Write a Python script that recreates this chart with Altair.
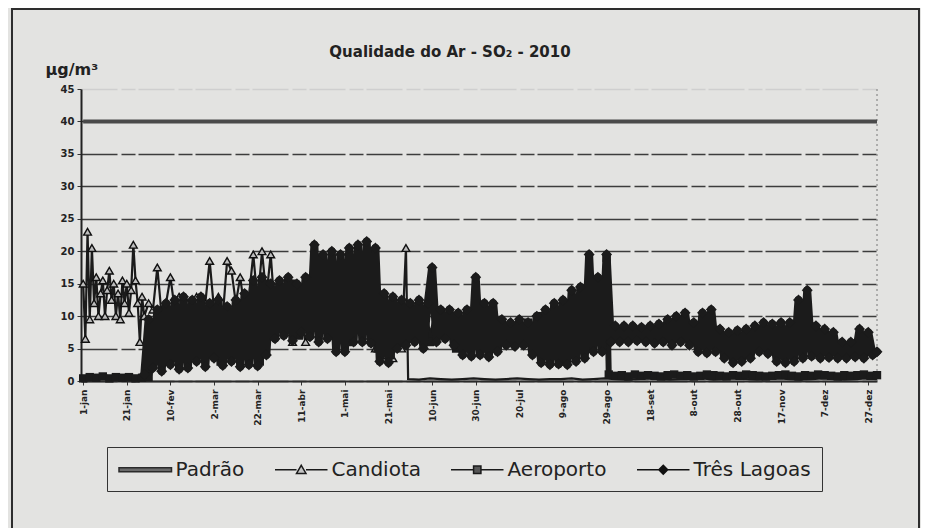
import altair as alt
import pandas as pd

# ---------------- data ----------------
tick_days = [0, 20, 40, 60, 80, 100, 120, 140, 160, 180, 200, 220, 240, 260, 280, 300, 320, 340, 360]
tick_labels = ["1-jan", "21-jan", "10-fev", "2-mar", "22-mar", "11-abr", "1-mai", "21-mai",
               "10-jun", "30-jun", "20-jul", "9-ago", "29-ago", "18-set", "8-out", "28-out",
               "17-nov", "7-dez", "27-dez"]
y_ticks = [0, 5, 10, 15, 20, 25, 30, 35, 40, 45]

series_names = ["Padrão", "Candiota", "Aeroporto", "Três Lagoas"]

# Padrão (limit)
padrao_days = [0, 364]
padrao_vals = [40, 40]

# Candiota: daily in January, every 2 days Feb-May, every 5 days afterwards
cand_jan = [15.0, 6.5, 23.0, 9.5, 20.5, 12.0, 16.0, 10.0, 13.5, 15.5,
            10.0, 14.0, 17.0, 12.5, 15.0, 10.0, 13.5, 9.5, 15.5, 12.0,
            15.0, 10.5, 14.0, 21.0, 15.5, 12.0, 6.0, 13.0]
cand_mid = [10.0, 12.0, 11.0, 17.5, 10.0, 12.0, 16.0, 11.0, 13.0, 10.5,
            12.0, 11.0, 13.0, 10.0, 12.0, 18.5, 11.0, 13.0, 10.0, 18.5,
            17.0, 12.0, 16.0, 11.0, 13.0, 19.5, 12.0, 20.0, 13.0, 19.5,
            10.0, 12.0, 8.0, 11.0, 6.0, 12.0, 9.0, 6.0, 13.0, 10.0,
            14.0, 8.0, 12.0, 9.0, 13.0, 8.0, 11.0, 7.0, 12.0, 8.0,
            10.0, 7.0, 9.0, 5.0, 8.0, 4.0, 6.0, 3.5, 7.0, 5.0, 20.5]
cand_end = [0.3, 0.2, 0.4, 0.3, 0.2, 0.3, 0.4, 0.3, 0.2, 0.3,
            0.4, 0.3, 0.2, 0.3, 0.3, 0.4, 0.2, 0.3, 0.4, 0.3,
            0.2, 0.3, 0.4, 0.3, 0.2, 0.3, 0.3, 0.4, 0.2, 0.3,
            0.4, 0.3, 0.2, 0.3, 0.4, 0.3, 0.2, 0.3, 0.4, 0.3,
            0.2, 0.3, 0.4, 0.3]

# Aeroporto: every 3 days
aero_start = [0.4, 0.6, 0.5, 0.7, 0.4, 0.6, 0.5, 0.6, 0.4, 0.5, 0.6]
aero_mid = [4.0, 8.0, 3.0, 10.0, 5.0, 11.0, 4.0, 12.0, 6.0, 10.0,
            3.0, 11.0, 5.0, 12.0, 4.0, 14.0, 3.0, 15.0, 7.0, 14.0,
            8.0, 15.0, 7.0, 14.0, 9.0, 19.0, 8.0, 18.0, 7.0, 17.0,
            6.0, 19.0, 8.0, 20.0, 5.0, 12.0, 4.0, 11.0, 6.0, 10.0,
            7.0, 11.0, 6.0, 10.0, 8.0, 10.0, 5.0, 9.0, 6.0, 10.0,
            5.0, 11.0, 6.0, 9.0, 7.0, 8.0, 6.0, 9.0, 5.0, 10.0,
            4.0, 11.0, 3.0, 12.0, 4.0, 13.0, 5.0, 15.0, 8.0, 19.0]
aero_end = [1.0, 0.8, 0.9, 0.7, 1.0, 0.8, 0.9, 0.8, 0.7, 0.9,
            1.0, 0.8, 0.9, 0.7, 0.8, 1.0, 0.9, 0.8, 0.7, 0.9,
            0.8, 1.0, 0.9, 0.8, 0.7, 0.8, 0.9, 1.0, 0.8, 0.7,
            0.9, 0.8, 1.0, 0.9, 0.8, 0.7, 0.9, 0.8, 0.9, 1.0,
            0.8, 0.9]

# Três Lagoas: every 2 days from 29-jan
tl_vals = [1.0, 9.5, 2.0, 11.0, 1.5, 12.0, 2.5, 12.5, 1.8, 13.0,
           2.0, 12.5, 3.0, 13.0, 2.2, 12.0, 3.5, 12.5, 2.4, 11.5,
           3.0, 12.5, 2.2, 13.5, 2.5, 15.5, 2.3, 16.0, 4.0, 15.0,
           6.5, 15.5, 7.0, 16.0, 6.2, 15.0, 7.5, 16.0, 6.8, 21.0,
           6.0, 19.5, 6.5, 20.0, 4.5, 19.5, 4.5, 20.5, 6.0, 21.0,
           6.0, 21.5, 5.8, 20.5, 3.0, 13.5, 2.8, 13.0, 5.0, 12.5,
           5.5, 12.0, 6.0, 12.5, 5.0, 12.0, 17.5, 6.0, 11.0, 6.5,
           11.0, 5.5, 10.5, 4.0, 11.0, 3.8, 16.0, 4.0, 12.0, 3.7,
           12.0, 4.5, 9.5, 5.5, 9.0, 5.3, 9.5, 5.5, 9.0, 4.0,
           10.0, 2.8, 11.0, 2.5, 12.0, 2.6, 12.5, 2.5, 14.0, 3.0,
           14.5, 3.5, 19.5, 4.5, 16.0, 4.5, 19.5, 6.0, 8.5, 6.0,
           8.5, 6.0, 8.5, 6.2, 8.3, 6.0, 8.5, 5.8, 8.8, 6.0,
           9.5, 5.5, 10.0, 6.0, 10.5, 5.5, 9.0, 4.5, 10.5, 4.3,
           11.0, 4.5, 8.0, 3.5, 7.5, 2.8, 7.8, 3.0, 8.0, 3.5,
           8.5, 4.5, 9.0, 4.2, 8.8, 3.0, 9.0, 2.8, 9.0, 3.0,
           12.5, 3.5, 14.0, 3.8, 8.5, 3.5, 8.0, 3.6, 7.5, 3.5,
           6.0, 3.5, 6.0, 3.7, 8.0, 3.5, 7.5, 4.0, 4.5]


def days_from(start, step, vals):
    return [start + step * i for i in range(len(vals))]


cand_days = days_from(0, 1, cand_jan) + days_from(28, 2, cand_mid) + days_from(149, 5, cand_end)
cand_df = pd.DataFrame({"day": cand_days, "value": cand_jan + cand_mid + cand_end})

aero_days = days_from(0, 3, aero_start) + days_from(33, 3, aero_mid) + days_from(241, 3, aero_end)
aero_df = pd.DataFrame({"day": aero_days, "value": aero_start + aero_mid + aero_end})

tl_df = pd.DataFrame({"day": days_from(28, 2, tl_vals), "value": tl_vals})
pad_df = pd.DataFrame({"day": padrao_days, "value": padrao_vals})

# legend helper rows (drawn outside the clipped plot, only feed the legend)
legend_df = pd.DataFrame({"serie": series_names, "day": [100] * 4, "value": [-50] * 4})
legend_paths = [
    "M-1,-0.2H4V0.2H-1Z",
    "M-1,0H1.05M1.95,0H4M1.5,-0.42L1.95,0.35H1.05Z",
    "M-1,0H1.15M1.85,0H4M1.15,-0.35H1.85V0.35H1.15Z",
    "M-1,0H1.1M1.9,0H4M1.5,-0.42L1.92,0L1.5,0.42L1.08,0Z",
]
legend_fills = ["#6a6a6a", "#c4c4c4", "#555555", "#111111"]
legend_strokes = ["#2a2a2a", "#1a1a1a", "#1a1a1a", "#111111"]

# ---------------- chart ----------------
W, H = 796, 292
FONT = "DejaVu Sans"
INK = "#1b1b1b"

xs = alt.Scale(domain=[-1, 364], nice=False)
ys = alt.Scale(domain=[0, 45], nice=False)

label_expr = "[" + ",".join("'%s'" % t for t in tick_labels) + "][round(datum.value / 20)]"

x_axis = alt.Axis(values=tick_days, labelExpr=label_expr, labelAngle=270, labelAlign="right",
                  labelBaseline="middle", labelFont=FONT, labelFontWeight="bold", labelFontSize=9,
                  labelColor="#222", labelPadding=4, labelOverlap=False, tickSize=4,
                  tickColor="#333", domainColor="#2a2a2a", domainWidth=2, grid=False, title=None)
y_axis = alt.Axis(values=y_ticks, labelFont=FONT, labelFontWeight="bold", labelFontSize=10,
                  labelColor="#222", labelPadding=3, tickSize=4, tickColor="#333",
                  domainColor="#222", domainWidth=2, grid=True,
                  gridColor={"condition": {"test": "datum.value == 45", "value": "#cfcfcf"},
                             "value": "#3c3c3c"},
                  gridWidth=1.4, gridDash=[36, 4, 14, 3],
                  title="µg/m³", titleAngle=0, titleX=-36, titleY=-15, titleAlign="left",
                  titleBaseline="alphabetic", titleFont=FONT, titleFontSize=16,
                  titleFontWeight="bold", titleColor="#222")


def enc(ch):
    return ch.encode(x=alt.X("day:Q", scale=xs, axis=x_axis),
                     y=alt.Y("value:Q", scale=ys, axis=y_axis))


one = pd.DataFrame({"a": [0]})
frame = alt.Chart(one).mark_rect(fill="transparent", stroke="#2e2e2e", strokeWidth=2).encode(
    x=alt.value(-69), x2=alt.value(838), y=alt.value(-80), y2=alt.value(441))
right_edge = alt.Chart(one).mark_rule(color="#777", strokeDash=[2, 3], strokeWidth=1).encode(
    x=alt.value(W), y=alt.value(0), y2=alt.value(H))

padrao = enc(alt.Chart(pad_df).mark_line(color="#4a4a4a", strokeWidth=4))

aero_line = enc(alt.Chart(aero_df).mark_line(color=INK, strokeWidth=6, strokeJoin="round"))
aero_pts = enc(alt.Chart(aero_df).mark_point(shape="square", filled=True, color=INK,
                                             size=70, opacity=1))
tl_line = enc(alt.Chart(tl_df).mark_line(color=INK, strokeWidth=8, strokeJoin="round",
                                         strokeCap="round"))
tl_pts = enc(alt.Chart(tl_df).mark_point(shape="diamond", filled=True, color=INK,
                                         size=120, opacity=1))
cand_line = enc(alt.Chart(cand_df).mark_line(color=INK, strokeWidth=2.2))
cand_pts = enc(alt.Chart(cand_df).mark_point(shape="triangle-up", fill="#bdbdbd", stroke="#111",
                                             strokeWidth=1.4, size=60, opacity=1)
               ).transform_filter("datum.day < 149")

leg = alt.Legend(title=None, orient="none", legendX=26, legendY=358, direction="horizontal",
                 symbolSize=441, symbolStrokeWidth=1.5, labelFont=FONT, labelFontSize=20,
                 labelColor="#222", labelOffset=34.5, columnPadding=27, padding=11,
                 strokeColor="#333", labelLimit=300)

legend_layer = alt.Chart(legend_df).mark_point(clip=True, strokeWidth=1.5, opacity=1).encode(
    x=alt.X("day:Q", scale=xs, axis=x_axis),
    y=alt.Y("value:Q", scale=ys, axis=y_axis),
    shape=alt.Shape("serie:N", scale=alt.Scale(domain=series_names, range=legend_paths), legend=leg),
    fill=alt.Fill("serie:N", scale=alt.Scale(domain=series_names, range=legend_fills), legend=leg),
    stroke=alt.Stroke("serie:N", scale=alt.Scale(domain=series_names, range=legend_strokes), legend=leg),
)

chart = alt.layer(
    frame, right_edge, padrao, cand_line, cand_pts, aero_line, aero_pts, tl_line, tl_pts, legend_layer
).properties(
    width=W, height=H,
    title=alt.Title("Qualidade do Ar - SO₂ - 2010", font=FONT, fontSize=15, fontWeight="bold",
                    color="#222", anchor="middle", frame="group", dx=-29, offset=-64,
                    baseline="alphabetic"),
    padding={"left": 73, "top": 81, "right": 44, "bottom": 147},
    autosize=alt.AutoSizeParams(type="none"),
    background="#e3e3e1",
).configure_view(stroke=None)

chart.save("out.html", embed_options={"renderer": "svg", "actions": False})
